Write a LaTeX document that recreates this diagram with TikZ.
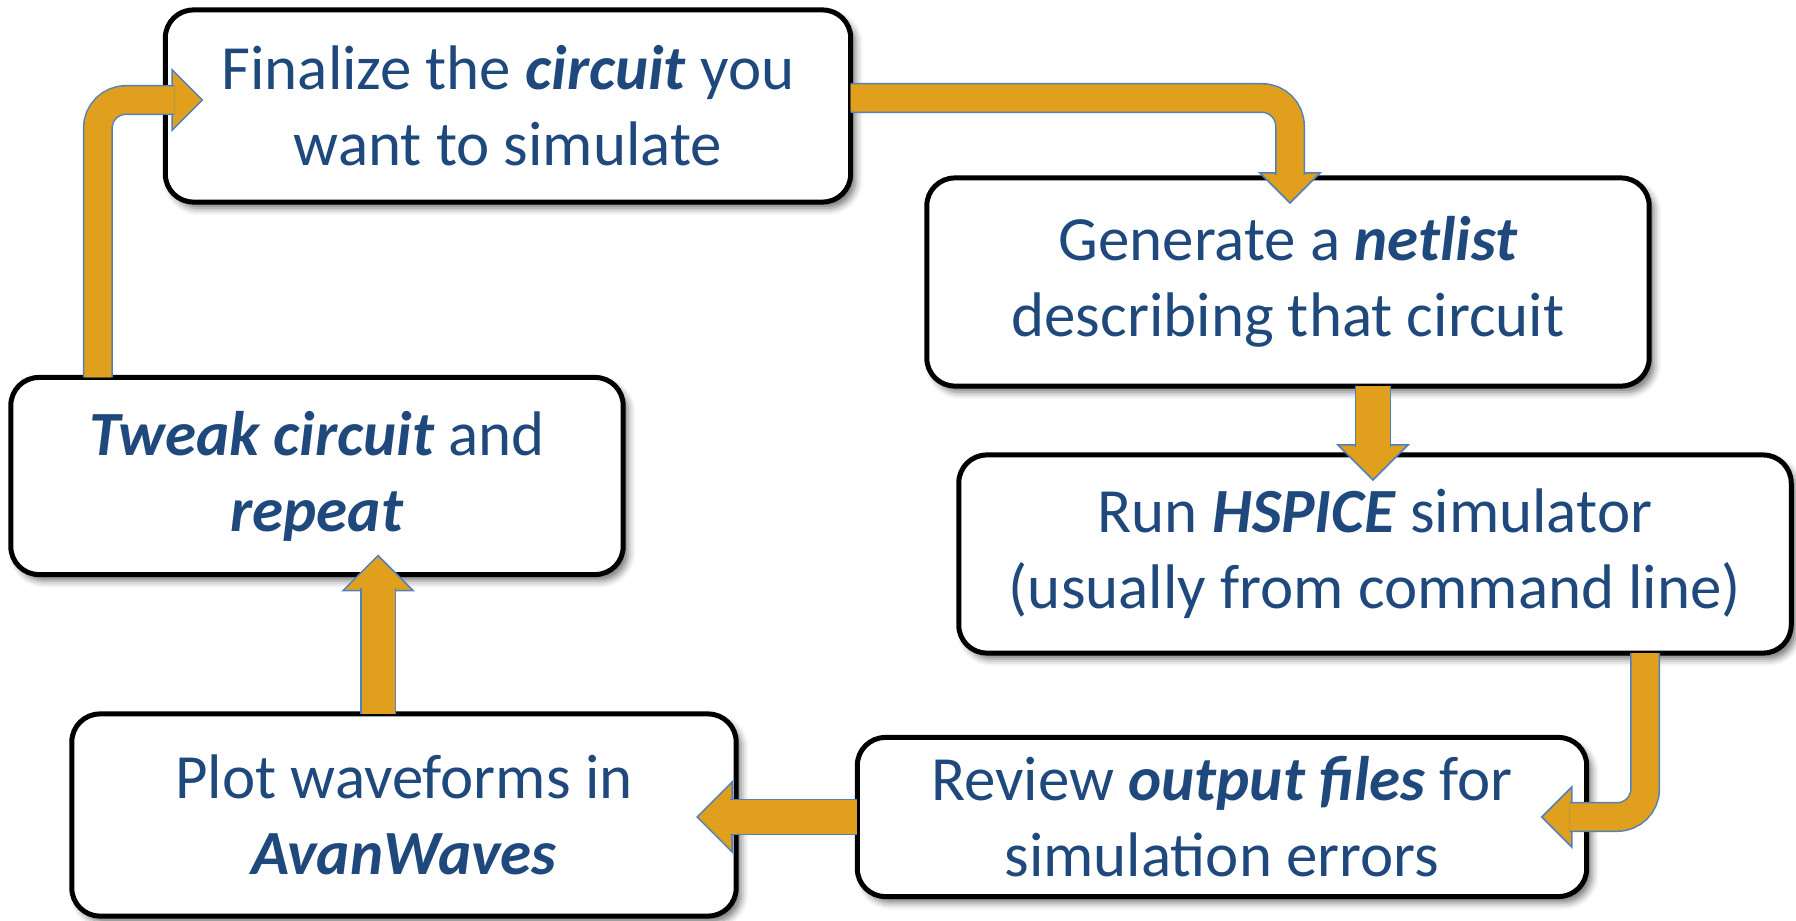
\documentclass[tikz,border=0pt]{standalone}
\usepackage{fontspec}
\setmainfont{Carlito}
\usetikzlibrary{shadows.blur}
\definecolor{textblue}{RGB}{31,73,125}
\definecolor{flowfill}{RGB}{224,159,29}
\definecolor{flowline}{RGB}{79,129,189}
\newcommand{\kw}[1]{\textbf{\textit{#1}}}
\begin{document}
\begin{tikzpicture}[x=0.01cm, y=-0.01cm,
	stepbox/.style={draw=black, line width=0.05cm, fill=white, rounded corners=0.28cm, align=center, text=textblue, font=\fontsize{17.9}{21.6}\selectfont, inner sep=0pt, outer sep=0pt, blur shadow={shadow xshift=0.05cm, shadow yshift=-0.06cm, shadow blur radius=0.07cm, shadow opacity=55}},
	flow/.style={draw=flowline, line width=0.015cm, double=flowfill, double distance=0.33cm},
	bentflow/.style={flow, double distance=0.27cm, rounded corners=0.28cm},
	flowhead/.pic={\filldraw[fill=flowfill, draw=flowline, line width=0.015cm] (-35,-35) -- (0,0) -- (-35,35) -- cycle;}]
	\useasboundingbox (0,0) rectangle (1796,921);
	\node[stepbox, minimum width=6.85cm, minimum height=1.92cm] (finalize) at (508,106) {Finalize the \kw{circuit} you\\want to simulate};
	\node[stepbox, minimum width=7.22cm, minimum height=2.08cm] (netlist) at (1288,282) {Generate a \kw{netlist}\\describing that circuit};
	\node[stepbox, minimum width=8.32cm, minimum height=1.98cm] (hspice) at (1375,554) {Run \kw{HSPICE} simulator\\(usually from command line)};
	\node[stepbox, minimum width=7.29cm, minimum height=1.59cm] (review) at (1222,817) {Review \kw{output files} for\\simulation errors};
	\node[stepbox, minimum width=6.64cm, minimum height=2.02cm] (plot) at (404,815) {Plot waveforms in\\\kw{AvanWaves}};
	\node[stepbox, minimum width=6.12cm, minimum height=1.97cm] (tweak) at (317,476) {\kw{Tweak circuit} and\\\kw{repeat}};
	\pic[rotate=-90, scale=0.86] at ([xshift=0.02cm,yshift=-0.25cm]netlist.north) {flowhead};
	\draw[bentflow] ([yshift=0.08cm]finalize.east) -| ([xshift=0.02cm,yshift=0.03cm]netlist.north);
	\pic[rotate=-90] at ([xshift=-0.02cm,yshift=-0.25cm]hspice.north) {flowhead};
	\draw[flow] ([xshift=-0.02cm,yshift=0.08cm]hspice.north) -- ([xshift=-0.02cm]hspice.north |- netlist.south);
	\pic[rotate=180, scale=0.86] at ([xshift=-0.45cm]review.east) {flowhead};
	\draw[bentflow] ([xshift=-1.46cm]hspice.south east) |- ([xshift=-0.17cm]review.east);
	\pic[rotate=180] at ([xshift=-0.39cm]plot.east |- review.west) {flowhead};
	\draw[flow] (review.west) -- ([xshift=-0.06cm]plot.east |- review.west);
	\pic[rotate=90] at ([xshift=0.61cm,yshift=0.19cm]tweak.south) {flowhead};
	\draw[flow] ([xshift=0.61cm,yshift=-0.13cm]tweak.south) -- ([xshift=0.61cm]tweak.south |- plot.north);
	\pic[scale=0.86] at ([xshift=0.37cm,yshift=0.06cm]finalize.west) {flowhead};
	\draw[bentflow] ([xshift=0.87cm]tweak.north west) |- ([xshift=0.09cm,yshift=0.06cm]finalize.west);
\end{tikzpicture}
\end{document}
